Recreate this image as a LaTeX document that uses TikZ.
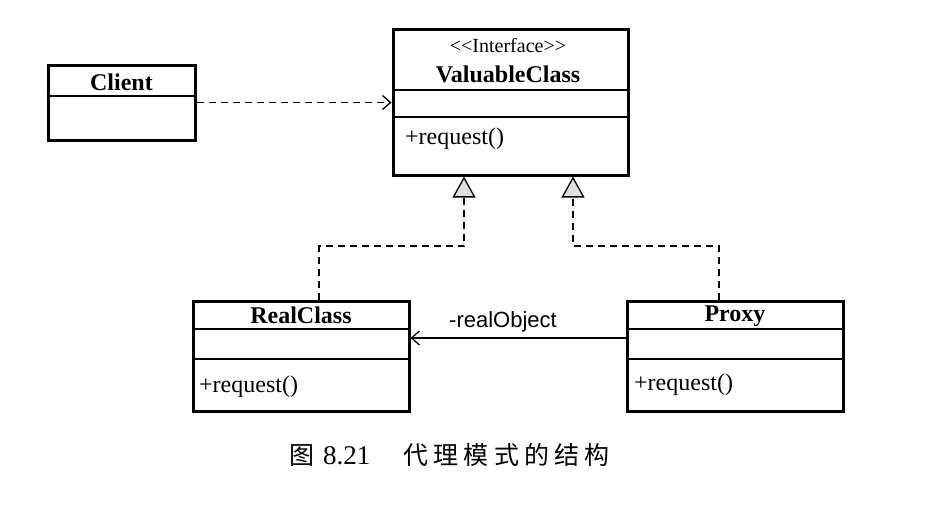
\documentclass[tikz,border=0pt]{standalone}
\usepackage{fontspec}
\setmainfont{Liberation Serif}
\newfontfamily\sansf{Liberation Sans}
\newfontfamily\cjk{Noto Sans CJK SC}
\usetikzlibrary{arrows.meta}
\begin{document}
\begin{tikzpicture}[x=1pt,y=-1pt,
  classbox/.style={draw, line width=3pt, inner sep=0pt},
  divider/.style={line width=2.6pt},
  conn/.style={line width=1.3pt},
  dashedconn/.style={conn, dash pattern=on 7pt off 5pt},
  title/.style={font=\fontsize{24}{28}\selectfont\bfseries, anchor=base, inner sep=0pt},
  member/.style={font=\fontsize{24}{28}\selectfont, anchor=base west, inner sep=0pt},
  stereo/.style={font=\fontsize{20}{24}\selectfont, anchor=base, inner sep=0pt},
  openhead/.style={-{Straight Barb[length=8pt,width=14pt]}},
  realizehead/.style={-{Triangle[length=21pt,width=23pt,fill=gray!25]}}]
\useasboundingbox[fill=white] (0,0) rectangle (929,512);

% Client
\node[classbox, minimum width=147pt, minimum height=75pt] (client) at (121.5,102.5) {};
\draw[divider] (client.west |- 0,96) -- (client.east |- 0,96);
\node[title] (clientname) at (121.5,90) {Client};

% ValuableClass
\node[classbox, minimum width=235pt, minimum height=146pt] (valuable) at (510.5,102) {};
\draw[divider] (valuable.west |- 0,90) -- (valuable.east |- 0,90);
\draw[divider] (valuable.west |- 0,117) -- (valuable.east |- 0,117);
\node[stereo] (vstereo) at (508,52) {<{}<Interface>{}>};
\node[title] (vname) at (508,82) {ValuableClass};
\node[member] (vreq) at (405,144) {+request()};

% RealClass
\node[classbox, minimum width=216pt, minimum height=110pt] (real) at (301,356) {};
\draw[divider] (real.west |- 0,329) -- (real.east |- 0,329);
\draw[divider] (real.west |- 0,359) -- (real.east |- 0,359);
\node[title] (rname) at (301,323) {RealClass};
\node[member] (rreq) at (199,392) {+request()};

% Proxy
\node[classbox, minimum width=216pt, minimum height=110pt] (proxy) at (735,356) {};
\draw[divider] (proxy.west |- 0,329) -- (proxy.east |- 0,329);
\draw[divider] (proxy.west |- 0,359) -- (proxy.east |- 0,359);
\node[title] (pname) at (735,321) {Proxy};
\node[member] (preq) at (634,390) {+request()};

% Client dependency
\draw[dashedconn, openhead] (client.east) -- (valuable.west |- client.east);

% Realizations
\coordinate (rl) at (319,246);
\coordinate (vl) at (464,246);
\coordinate (pr) at (719,246);
\coordinate (vr) at (573,246);
\draw[dashedconn, realizehead] (real.north -| rl) -- (rl) -- (vl) -- (valuable.south -| vl);
\draw[dashedconn, realizehead] (proxy.north -| pr) -- (pr) -- (vr) -- (valuable.south -| vr);

% Association
\coordinate (ay) at (0,338);
\draw[conn, openhead] (proxy.west |- ay) -- (real.east |- ay);
\node[font=\sansf\fontsize{22}{26}\selectfont, anchor=base, inner sep=0pt] (lbl) at (503,327) {-realObject};

% Caption
\node[anchor=base west, inner sep=0pt, font=\fontsize{27}{32}\selectfont] (caption) at (289,464)
  {{\cjk\fontsize{25}{29}\selectfont 图}\hspace{9pt}8.21\hspace{33pt}{\cjk\fontsize{25}{29}\selectfont\addfontfeatures{LetterSpace=21}代理模式的结构}};
\end{tikzpicture}
\end{document}
